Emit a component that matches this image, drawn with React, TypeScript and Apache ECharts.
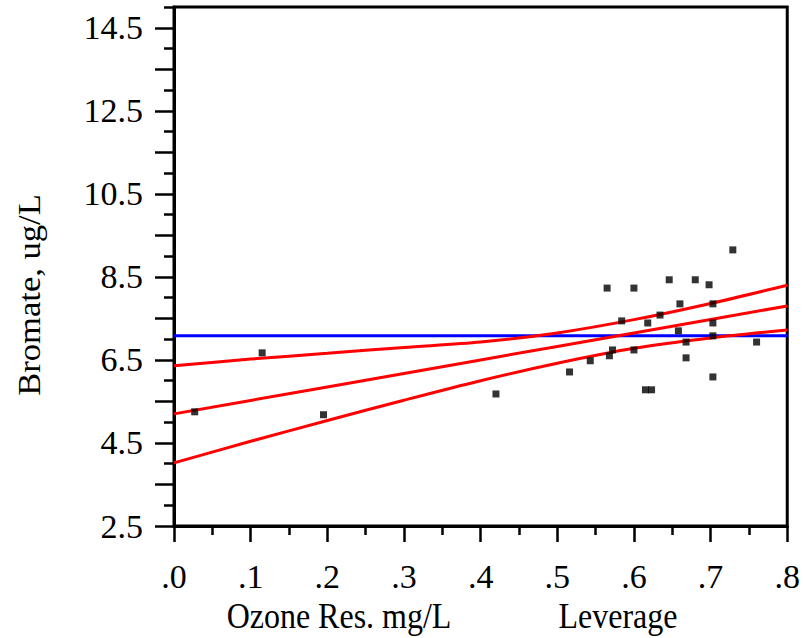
import React, { useEffect, useRef } from "react";
import * as echarts from "echarts";

// Observed points: Ozone Res. (x) vs Bromate (y)
const ozoneRes = [
  0.027, 0.115, 0.195, 0.42, 0.516, 0.543, 0.565, 0.568, 0.572, 0.584,
  0.6, 0.6, 0.618, 0.615, 0.623, 0.634, 0.646, 0.658, 0.66, 0.668,
  0.668, 0.68, 0.698, 0.703, 0.703, 0.703, 0.703, 0.729, 0.76,
];
const bromate = [
  5.25, 6.67, 5.18, 5.68, 6.21, 6.48, 8.23, 6.6, 6.74, 7.44,
  8.23, 6.74, 7.39, 5.78, 5.78, 7.58, 8.43, 7.2, 7.85, 6.93,
  6.55, 8.43, 8.31, 7.85, 7.39, 7.08, 6.09, 9.15, 6.93,
];

// Fit line and confidence curves
const fitX = [0, 0.1, 0.2, 0.3, 0.4, 0.5, 0.6, 0.7, 0.8];
const fitMid = [5.2, 5.525, 5.85, 6.175, 6.5, 6.825, 7.15, 7.475, 7.8];
const fitUpper = [6.36, 6.52, 6.66, 6.8, 6.93, 7.15, 7.47, 7.86, 8.3];
const fitLower = [4.02, 4.54, 5.04, 5.53, 6.0, 6.42, 6.78, 7.03, 7.22];
const meanBromate = 7.08;

// Axis ticks and labels
const yLabelValues = [2.5, 4.5, 6.5, 8.5, 10.5, 12.5, 14.5];
const yMajorTicks = [2.5, 3.5, 4.5, 5.5, 6.5, 7.5, 8.5, 9.5, 10.5, 11.5, 12.5, 13.5, 14.5];
const yMinorTicks = [3, 4, 5, 6, 7, 8, 9, 10, 11, 12, 13, 14, 15];
const xMajorTicks = [0, 0.1, 0.2, 0.3, 0.4, 0.5, 0.6, 0.7, 0.8];
const xMinorTicks = [0.05, 0.15, 0.25, 0.35, 0.45, 0.55, 0.65, 0.75];

const FONT = '"Liberation Serif", "Times New Roman", serif';

export default function App() {
  const ref = useRef<HTMLDivElement>(null);

  useEffect(() => {
    if (!ref.current) return;
    const chart = echarts.init(ref.current, undefined, { renderer: "svg" });

    const scatterData = ozoneRes.map((x, i) => [x, bromate[i]]);
    const pair = (ys: number[]) => fitX.map((x, i) => [x, ys[i]]);

    const tickStyle = { color: "#000", width: 2.5 };

    const titleStyle = (text: string) => ({
      text,
      font: `32px ${FONT}`,
      fill: "#000",
      align: "center",
      verticalAlign: "middle",
      textAlign: "center",
      textVerticalAlign: "middle",
    });

    chart.setOption({
      animation: false,
      backgroundColor: "#fff",
      grid: {
        left: 174,
        right: 10,
        top: 7,
        bottom: 112,
        show: true,
        borderColor: "#000",
        borderWidth: 3,
      },
      xAxis: [
        {
          type: "value",
          min: 0,
          max: 0.8,
          position: "bottom",
          axisLine: { show: true, onZero: false, lineStyle: { color: "#000", width: 3 } },
          axisTick: { show: true, length: 16, lineStyle: tickStyle, customValues: xMajorTicks },
          axisLabel: {
            customValues: xMajorTicks,
            formatter: (v: number) => v.toFixed(1).replace(/^0/, ""),
            fontFamily: FONT,
            fontSize: 34,
            color: "#000",
            margin: 33,
          },
          splitLine: { show: false },
        },
        {
          type: "value",
          min: 0,
          max: 0.8,
          position: "bottom",
          axisLine: { show: false, onZero: false },
          axisTick: { show: true, length: 9, lineStyle: tickStyle, customValues: xMinorTicks },
          axisLabel: { show: false },
          splitLine: { show: false },
        },
      ],
      yAxis: [
        {
          type: "value",
          min: 2.5,
          max: 15,
          position: "left",
          axisLine: { show: true, onZero: false, lineStyle: { color: "#000", width: 3 } },
          axisTick: { show: true, length: 19, lineStyle: tickStyle, customValues: yMajorTicks },
          axisLabel: {
            customValues: yLabelValues,
            formatter: (v: number) => v.toFixed(1),
            fontFamily: FONT,
            fontSize: 34,
            color: "#000",
            margin: 31,
          },
          splitLine: { show: false },
        },
        {
          type: "value",
          min: 2.5,
          max: 15,
          position: "left",
          axisLine: { show: false, onZero: false },
          axisTick: { show: true, length: 10, lineStyle: tickStyle, customValues: yMinorTicks },
          axisLabel: { show: false },
          splitLine: { show: false },
        },
      ],
      series: [
        {
          type: "line",
          data: [[0, meanBromate], [0.8, meanBromate]],
          symbol: "none",
          lineStyle: { color: "#0000ff", width: 3 },
          z: 2,
        },
        {
          type: "line",
          data: pair(fitUpper),
          smooth: 0.3,
          symbol: "none",
          lineStyle: { color: "#ff0000", width: 3 },
          z: 3,
        },
        {
          type: "line",
          data: pair(fitMid),
          symbol: "none",
          lineStyle: { color: "#ff0000", width: 3 },
          z: 3,
        },
        {
          type: "line",
          data: pair(fitLower),
          smooth: 0.3,
          symbol: "none",
          lineStyle: { color: "#ff0000", width: 3 },
          z: 3,
        },
        {
          type: "scatter",
          data: scatterData,
          symbol: "rect",
          symbolSize: 7,
          itemStyle: { color: "#000" },
          z: 4,
        },
      ],
      graphic: [
        { type: "text", x: 339, y: 615, scaleY: 1.15, style: titleStyle("Ozone Res. mg/L") },
        { type: "text", x: 618, y: 615, scaleY: 1.15, style: titleStyle("Leverage") },
        {
          type: "text",
          x: 29,
          y: 295,
          rotation: Math.PI / 2,
          scaleX: 1.08,
          style: titleStyle("Bromate, ug/L"),
        },
      ],
    });

    return () => chart.dispose();
  }, []);

  return (
    <div
      ref={ref}
      style={{ position: "fixed", left: 0, top: 0, width: 803, height: 638, background: "#fff" }}
    />
  );
}
